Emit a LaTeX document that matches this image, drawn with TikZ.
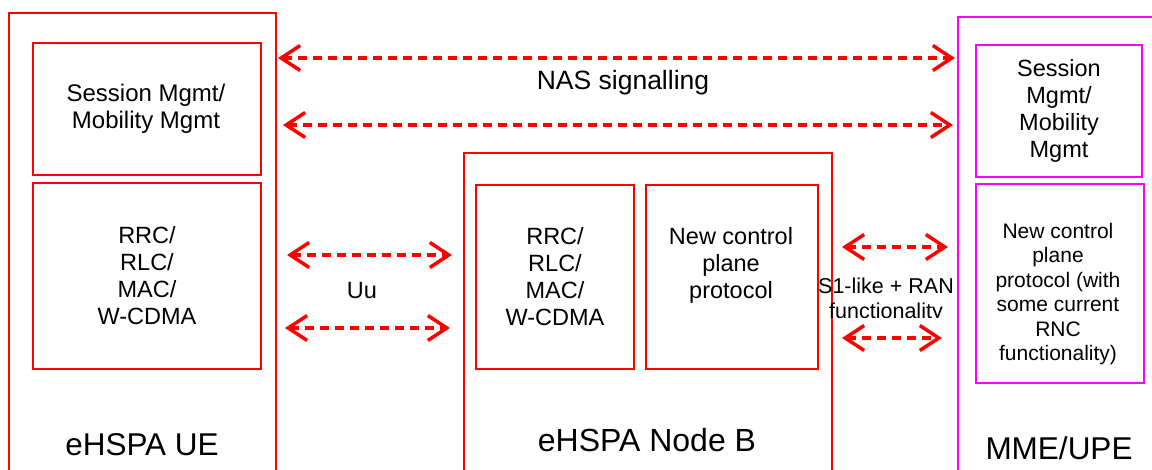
\documentclass[tikz,border=0pt]{standalone}
\usepackage{fontspec}
\setmainfont{Liberation Sans}
\usetikzlibrary{arrows.meta}
\definecolor{sigred}{RGB}{255,0,0}
\definecolor{mmemag}{RGB}{255,0,255}
\tikzset{
  box/.style={draw=sigred, line width=2pt, inner sep=0pt, anchor=north west},
  mbox/.style={box, draw=mmemag},
  sig/.style={draw=sigred, line width=3.8pt, dash pattern=on 9pt off 6pt,
    {Straight Barb[length=19pt,width=25pt,line width=3.5pt]}-{Straight Barb[length=19pt,width=25pt,line width=3.5pt]}},
  txt/.style={font=\fontsize{23.5}{27}\selectfont, align=center, inner sep=0pt},
  stxt/.style={font=\fontsize{21}{24.5}\selectfont, align=center, inner sep=0pt},
  big/.style={font=\fontsize{31.5}{36}\selectfont, inner sep=0pt},
}
\begin{document}
\begin{tikzpicture}[x=1pt,y=-1pt]
\useasboundingbox (0,0) rectangle (1152,470);
% UE
\node[box, minimum width=267pt, minimum height=470pt] (ue) at (8,12) {};
\node[box, minimum width=228pt, minimum height=132pt] (uesm) at (32,42) {};
\node[box, minimum width=228pt, minimum height=186pt] (uerrc) at (32,182) {};
\node[txt, font=\fontsize{24}{27}\selectfont] (uesmt) at (146,109) {Session Mgmt/\\Mobility Mgmt};
\node[txt] (uerrct) at (uerrc.center) {RRC/\\RLC/\\MAC/\\W-CDMA};
\node[big] (uelab) at (142,445) {eHSPA UE};
% Node B
\node[box, minimum width=368pt, minimum height=340pt] (nb) at (463,152) {};
\node[box, minimum width=158pt, minimum height=184pt] (nbrrc) at (475,184) {};
\node[box, minimum width=172pt, minimum height=184pt] (nbcp) at (645,184) {};
\node[txt] (nbrrct) at (nbrrc.center) {RRC/\\RLC/\\MAC/\\W-CDMA};
\node[txt] (nbcpt) at (731,265) {New control\\plane\\protocol};
\node[big, font=\fontsize{32}{36}\selectfont] (nblab) at (647,440) {eHSPA Node B};
% MME/UPE
\node[mbox, minimum width=220pt, minimum height=470pt] (mme) at (957,16) {};
\node[mbox, minimum width=166pt, minimum height=132pt] (mmesm) at (975,44) {};
\node[mbox, minimum width=168pt, minimum height=199pt] (mmecp) at (975,183) {};
\node[txt] (mmesmt) at (mmesm.center) {Session\\Mgmt/\\Mobility\\Mgmt};
\node[stxt] (mmecpt) at (1058,294) {New control\\plane\\protocol (with\\some current\\RNC\\functionality)};
\node[big] (mmelab) at (1059,448) {MME/UPE};
% arrow end points
\coordinate (n1a) at (278,58);  \coordinate (n1b) at (955,58);
\coordinate (n2a) at (283,125); \coordinate (n2b) at (953,125);
\coordinate (u1a) at (287,255); \coordinate (u1b) at (452,255);
\coordinate (u2a) at (285,328); \coordinate (u2b) at (450,328);
\coordinate (s1a) at (842,247); \coordinate (s1b) at (948,247);
\coordinate (s2a) at (842,338); \coordinate (s2b) at (942,338);
\draw[sig] (n1a) -- (n1b);
\draw[sig] (n2a) -- (n2b);
\draw[sig] (u1a) -- (u1b);
\draw[sig] (u2a) -- (u2b);
\draw[sig] (s1a) -- (s1b);
\draw[sig] (s2a) -- (s2b);
\node[txt, font=\fontsize{26.5}{30}\selectfont] (naslab) at (623,83) {NAS signalling};
\node[txt] (uulab) at (362,291) {Uu};
\begin{scope}
\clip (800,270) rectangle (960,318);
\node[stxt, font=\fontsize{21.5}{25}\selectfont] (s1lab) at (886,300) {S1-like + RAN\\functionality};
\end{scope}
\end{tikzpicture}
\end{document}
